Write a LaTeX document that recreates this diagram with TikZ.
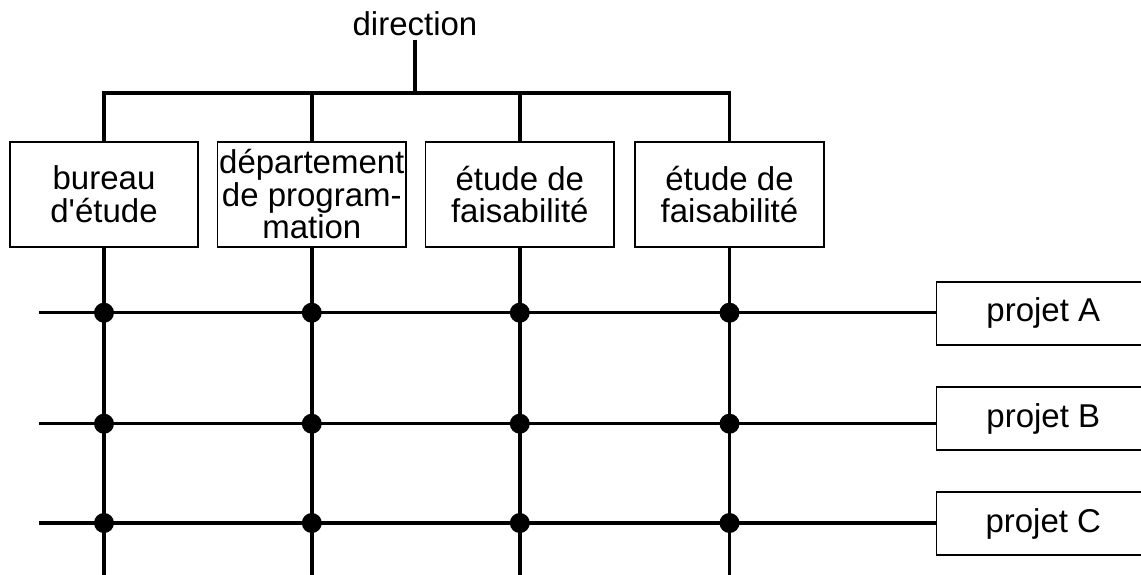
\documentclass[tikz,border=0pt]{standalone}
\usepackage{fontspec}
\setmainfont{Liberation Sans}[Ligatures=TeXOff]
\begin{document}
\begin{tikzpicture}[x=1pt,y=-1pt,
  txt/.style={font=\fontsize{33}{32.5}\selectfont},
  unit/.style={txt, draw, line width=1.7pt, minimum width=188.5pt,
    minimum height=105.5pt, inner sep=0pt, align=center},
  project/.style={txt, draw, line width=1.7pt, minimum width=213.5pt,
    minimum height=63pt, inner sep=0pt},
  link/.style={line width=3.4pt},
  junction/.style={circle, fill=black, inner sep=0pt, minimum size=20pt}]
\useasboundingbox (0,0) rectangle (1141,574);

% head of the organisation
\node[txt] (dir) at (415,24) {direction};

% functional units
\node[unit] (b1) at (104,194.4)   {bureau\\d'étude};
\node[unit] (b2) at (311.8,194.4) {département\\de program-\\mation};
\node[unit] (b3) at (519.8,194.4) {étude de\\faisabilité};
\node[unit] (b4) at (729.5,194.4) {étude de\\faisabilité};

% projects
\node[project] (pA) at (1043.3,313.3) {projet A};
\node[project] (pB) at (1043.3,418.7) {projet B};
\node[project] (pC) at (1043.3,523.8) {projet C};

% helper points
\coordinate (bar) at (415,93);
\coordinate (floor) at (0,580);
\coordinate (rA) at (39.3,312.7);
\coordinate (rB) at (39.3,423.7);
\coordinate (rC) at (39.3,523);

% hierarchy from the direction down to the units
\draw[link] (dir.south) -- (bar);
\draw[link] (b1.north) -- (b1.north |- bar) -- (b4.north |- bar) -- (b4.north);
\draw[link] (b2.north) -- (b2.north |- bar);
\draw[link] (b3.north) -- (b3.north |- bar);

% unit columns
\foreach \u in {b1,b2,b3,b4}
  \draw[link] (\u.south) -- (\u.south |- floor);

% project rows
\draw[link] (rA) -- (rA -| pA.west);
\draw[link] (rB) -- (rB -| pB.west);
\draw[link] (rC) -- (rC -| pC.west);

% matrix junctions
\foreach \u in {b1,b2,b3,b4}
  \foreach \r in {rA,rB,rC}
    \node[junction] (j-\u-\r) at (\u.south |- \r) {};
\end{tikzpicture}
\end{document}
